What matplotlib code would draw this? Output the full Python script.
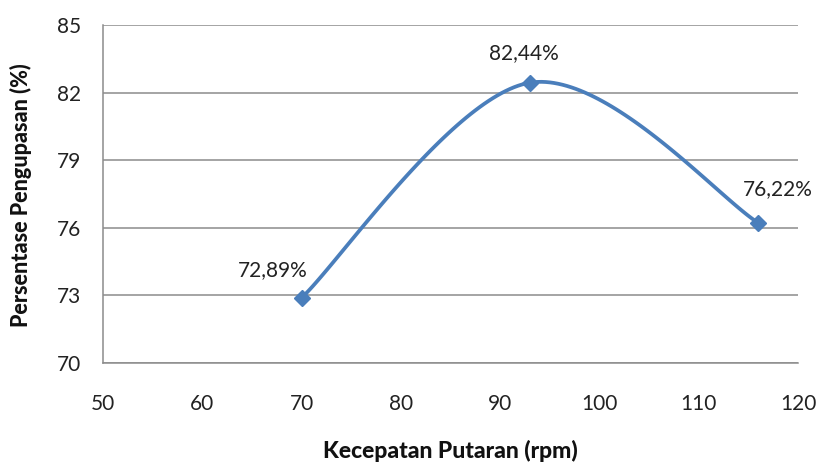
import numpy as np
import matplotlib
matplotlib.use("Agg")
import matplotlib.pyplot as plt

speed = [70, 93, 116]
percent = [72.89, 82.44, 76.22]
labels = ["72,89%", "82,44%", "76,22%"]
label_offsets = [(-29, 28), (-6, 30), (20, 34)]
xticks = [50, 60, 70, 80, 90, 100, 110, 120]
yticks = [70, 73, 76, 79, 82, 85]

plt.rcParams['font.family'] = ['Lato', 'DejaVu Sans']

def excel_smooth(xs, ys, n=60):
    pts = np.column_stack([xs, ys]).astype(float)
    out = []
    N = len(pts)
    for i in range(N - 1):
        p0 = pts[i - 1] if i > 0 else pts[i]
        p1 = pts[i]
        p2 = pts[i + 1]
        p3 = pts[i + 2] if i + 2 < N else pts[i + 1]
        c1 = p1 + (p2 - p0) / 6.0
        c2 = p2 - (p3 - p1) / 6.0
        t = np.linspace(0, 1, n)[:, None]
        seg = ((1 - t) ** 3) * p1 + 3 * ((1 - t) ** 2) * t * c1 + 3 * (1 - t) * t ** 2 * c2 + t ** 3 * p2
        out.append(seg if i == 0 else seg[1:])
    arr = np.vstack(out)
    return arr[:, 0], arr[:, 1]

fig = plt.figure(figsize=(8.18, 4.62), dpi=100)
ax = fig.add_axes([103 / 818, 1 - 363 / 462, (798 - 103) / 818, (363 - 25) / 462])

grid_c = '#8c8c8c'
ax.set_xlim(50, 120)
ax.set_ylim(70, 85)
ax.set_xticks(xticks)
ax.set_yticks(yticks)
ax.yaxis.grid(True, color=grid_c, linewidth=1.1)
ax.set_axisbelow(True)
for s in ['top', 'right']:
    ax.spines[s].set_visible(False)
for s in ['left', 'bottom']:
    ax.spines[s].set_color(grid_c)
    ax.spines[s].set_linewidth(1.1)
ax.tick_params(length=0, labelsize=15, colors='#222222')
ax.tick_params(axis='y', pad=16)
ax.tick_params(axis='x', pad=22)

color = '#4A7EBB'
sx, sy = excel_smooth(speed, percent)
ax.plot(sx, sy, color=color, linewidth=2.7, solid_capstyle='round', zorder=3)
ax.plot(speed, percent, linestyle='none', marker='D', markersize=8.5, color=color, zorder=4)

for x, y, lab, (dx, dy) in zip(speed, percent, labels, label_offsets):
    ax.annotate(lab, (x, y), xytext=(dx, dy), textcoords='offset pixels',
                ha='center', va='center', fontsize=15, color='#222222')

fig.text(450 / 818, 1 - 451 / 462, 'Kecepatan Putaran (rpm)', ha='center', va='center',
         fontsize=16.5, fontweight='black', color='#111111')
fig.text(21 / 818, 1 - 195 / 462, 'Persentase Pengupasan (%)', ha='center', va='center',
         rotation=90, fontsize=15.5, fontweight='black', color='#111111')

fig.savefig('out.png', dpi=100)
